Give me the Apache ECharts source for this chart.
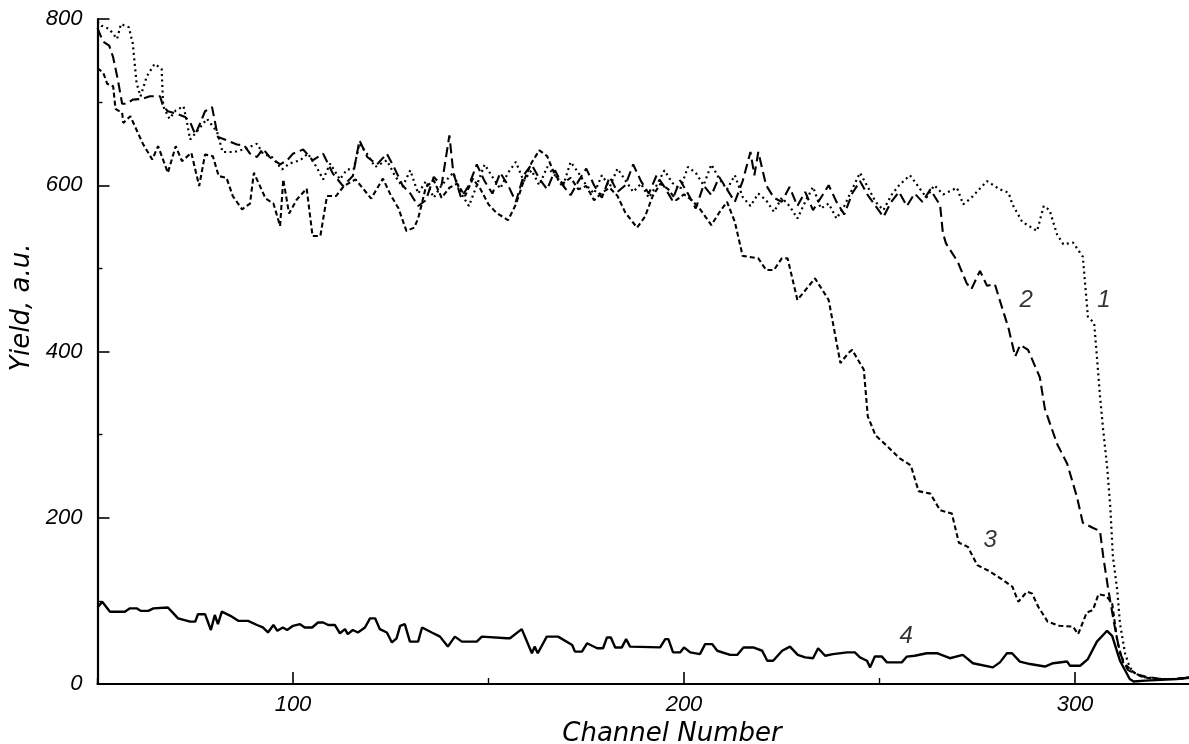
<!DOCTYPE html>
<html>
<head>
<meta charset="utf-8">
<script src="https://cdn.jsdelivr.net/npm/echarts@6/dist/echarts.min.js"></script>
<style>html,body{margin:0;padding:0;background:#fff;}#c{width:1189px;height:744px;}</style>
</head>
<body>
<div id="c"></div>
<script>
// ---- data ----
const s1Ch = [50,51,53,55,56,58,59,60,61,62.6,64.6,66.4,66.8,68.4,70,72,72.7,73.7,76,78,80.6,82,85,88,90.8,92.3,94.6,97.2,99,101.8,103.8,106,107.7,109.5,112,113.8,115.5,117,118.9,121,124,126,128,130,132,134,136,138,141,143,145,147,149,151,153,155,157,159,161,163,165,167,169,171,173,175,177,179,181,183,185,187,189,191,193,195,197,199,201,203,205,207,209,211,213,215,217,219,221,223,225,227,229,231,233,235,237,239,241,243,245,247,249,251,253,255,257.8,260,262,264,266.3,269.8,271.4,273.5,277.5,280.8,283,284,286.5,290.3,292,293.5,295.4,297,299.5,302,303.3,304.9,305.6,306.4,307.2,308.2,309,309.7,310.8,311.5,312.8,314,315.5,318,322,326,330];
const s1Val = [797,792,788,776,794,790,771,723,707,731,746,740,695,680,690,695,680,655,668,680,664,640,640,644,650,638,634,619,626,630,638,622,607,626,607,619,619,650,638,622,630,612,598,618,590,605,585,600,615,590,575,600,625,610,596,615,628,605,618,600,622,612,598,628,615,600,590,612,598,620,606,592,602,585,600,618,603,595,622,615,600,625,608,595,612,586,575,590,582,568,585,575,560,580,598,572,578,560,575,595,615,598,580,570,588,600,612,598,585,600,589,597,577,585,605,595,591,577,556,545,575,570,541,529,531,514,442,434,394,346,306,262,215,153,113,73,37,20,12,8,6,6,8];

const s2Ch = [50,51.4,53,54,55.2,56.3,57.5,59,61.6,63.4,66,66.8,68,70.3,72.4,73.7,75,76.2,77.5,79.3,80.8,83.1,85.7,87.5,89,90.8,92.3,94,96.7,98.5,100,102.6,105,107.7,110.2,112.8,115.3,117,119,121.5,124,126,128,130,132,134,136,138,140,141,143,145,147,149,151,153,155,157,159,161,163,165,167,169,171,173,175,177,179,181,183,185,187,189,191,193,195,197,199,201,203,205,207,209,211,213,215,217,218,219,221,223,225,227,229,231,233,235,237,239,241,243,245,247,249,251,253,255,257,259,261,263,265.5,266.2,267,270,272.3,273.5,275.7,277.5,279.5,281,283,284.7,286,288,291,292.3,295.4,298,300.5,302,304.5,306.4,307.2,308.5,310,311.5,313.5,315.5,318,322,326,330];
const s2Val = [789,773,768,754,727,698,698,703,704,707,707,695,689,686,682,676,661,674,689,694,658,654,649,648,638,634,644,634,625,630,638,643,630,638,614,599,611,654,634,625,638,620,600,590,575,582,610,600,660,615,585,600,625,605,590,615,600,580,612,625,608,595,618,600,588,605,620,600,585,610,592,600,625,605,590,612,598,582,606,590,572,600,588,610,595,580,605,640,612,640,600,585,580,598,575,592,570,585,600,580,565,590,605,588,575,562,580,592,575,590,580,595,576,543,530,508,482,475,497,479,481,458,428,394,408,402,369,331,289,265,225,194,188,184,154,114,73,37,17,12,9,6,6,8];

const s3Ch = [50,51.5,52.5,54,54.6,56.3,56.6,58.4,61.6,64,65.5,68,70,71.6,74,76,77.5,79.5,81,83,84.6,87,89,90,93,95,96.7,97.5,99,101,103.5,105,107,108.7,111,113,116,120,123,125,127,129,131,132,134,136,138,140,142,144,146,148,150,152,155,157,159,161,163,165,167,169,171,173,175,177,179,181,183,185,188,190,192,194,196,198,200,202,204,207,209,211,213,215,219,221,223,225,226.5,229,233.5,237,240,242,243,246,247,249,252,255,258,260,263,265.5,268.5,270.3,272.6,275,278,281.6,284,285.5,287.7,289,290.6,293,296,299.5,300.8,303,304.6,306,308,309.5,310.8,312.3,315,317,320,325,330];
const s3Val = [741,735,722,719,692,687,675,683,650,631,647,615,647,629,639,599,637,635,611,609,587,571,578,615,584,578,551,607,566,583,596,539,539,587,587,599,607,584,608,588,572,545,549,560,598,606,585,597,602,587,608,595,577,567,558,577,605,627,642,635,612,602,609,595,599,582,591,597,587,567,549,562,587,602,595,582,589,582,572,552,567,580,556,515,512,498,498,512,512,462,488,462,386,398,402,378,322,299,286,272,263,232,229,209,205,170,165,143,136,125,117,99,111,109,93,75,70,69,60,86,89,108,106,97,52,26,14,9,6,6,8];

const s4Ch = [50,51.2,53.2,57,58.3,60,61,63,64.3,68,69,70.6,73.7,75,75.7,77.5,79,80,80.8,81.8,84,86,88.5,90.8,92.3,93.6,95,96,97.4,98.5,100,101.8,103,104.9,106.4,107.7,109,110.7,112,113.3,114,115.3,116.6,118.4,119.7,121,122.2,124,125.3,126.5,127.4,128.6,129.9,132,133,135.5,137.6,139.6,141.4,143.2,147,148.3,154.7,155.5,158.5,161.1,161.8,162.6,164.9,167.8,171.4,172.1,173.9,175.2,177.8,179.3,180.3,181.3,182.4,184.1,185.2,186.2,193.9,195.2,196,197.2,199,200,201.6,204.1,205.4,207.2,208.5,211.8,213.6,215.2,217.7,220,221.3,222.8,225.1,227.1,229.1,231,233,234.3,236.1,238.1,241.7,243.7,245,246.8,247.6,248.8,250.6,251.9,255.7,257,259,262.1,264.7,268,271.3,273.9,279,280.8,282.6,283.9,285.9,288.5,292.3,294.4,298,298.7,301.3,303.3,305.6,308.2,309.5,311.5,314,315,318,322,326,330];
const s4Val = [92,99,87,87,91,91,88,88,91,92,87,79,75,75,84,84,65,83,72,87,82,76,76,71,68,62,71,64,68,65,70,72,68,68,74,74,71,71,61,66,60,65,62,68,79,79,66,62,50,55,70,72,51,51,68,62,57,45,57,51,51,57,55,55,66,37,45,37,57,57,47,39,39,49,43,43,56,56,44,44,54,45,44,54,54,38,38,44,38,36,48,48,40,35,35,44,44,40,28,28,40,45,35,32,31,43,34,36,38,38,32,28,20,33,33,26,26,33,34,37,37,31,35,25,20,26,37,37,27,24,21,25,27,22,22,30,51,64,58,28,6,3,4,5,6,8];

const curveLabels = ['1','2','3','4'];
const curveLabelCh = [307.4, 287.5, 278.3, 256.8];
const curveLabelVal = [461, 461, 173, 57];

const yTicks = [0,200,400,600,800];
const xTickLabels = [100,200,300];

// ---- chart ----
const pairs = (xs, ys) => xs.map((x, i) => [x, ys[i]]);
const FONT = 'Liberation Sans';
const PX_PER_CH = 1094.8 / 280;           // plot scale: channels 50..330 over the plot width
const chart = echarts.init(document.getElementById('c'), null, {renderer: 'canvas'});
const lineBase = {type: 'line', showSymbol: false, symbol: 'none', smooth: false, silent: true, animation: false, z: 3,
  xAxisIndex: 0, yAxisIndex: 0};

chart.setOption({
  backgroundColor: '#ffffff',
  animation: false,
  grid: [
    {left: 97.5, top: 19, width: 1094.8, bottom: 60, containLabel: false, outerBoundsMode: 'none'},
    // same scale, extended to channel 0..400 so ticks fall on round channels
    {left: 97.5 - 50 * PX_PER_CH, top: 19, width: 400 * PX_PER_CH, bottom: 60, containLabel: false, outerBoundsMode: 'none'}
  ],
  xAxis: [{
    gridIndex: 0, type: 'value', min: 50, max: 330,
    axisLine: {show: true, onZero: false, lineStyle: {color: '#000', width: 2.2}},
    axisTick: {show: false}, axisLabel: {show: false}, splitLine: {show: false}
  }, {
    gridIndex: 1, type: 'value', min: 0, max: 400, interval: 100,
    name: 'Channel Number', nameLocation: 'middle', nameGap: 30,
    nameTextStyle: {fontFamily: 'DejaVu Sans', fontStyle: 'italic', fontSize: 26, color: '#000',
      padding: [0, 0, 0, 2 * (672 - (97.5 + 150 * PX_PER_CH))]},
    axisLine: {show: false, onZero: false},
    axisTick: {show: true, inside: true, length: 12, lineStyle: {color: '#000', width: 1.6}},
    minorTick: {show: true, splitNumber: 2, length: 6, lineStyle: {color: '#000', width: 1.4}},
    axisLabel: {show: true, margin: 10, color: '#000', fontFamily: FONT, fontStyle: 'italic', fontSize: 22,
      formatter: v => (xTickLabels.indexOf(v) >= 0 ? String(v) : '')},
    splitLine: {show: false}, minorSplitLine: {show: false}
  }],
  yAxis: [{
    gridIndex: 0, type: 'value', min: 0, max: 800, interval: 200,
    name: 'Yield, a.u.', nameLocation: 'middle', nameGap: 60, nameRotate: 90,
    nameTextStyle: {fontFamily: 'DejaVu Sans', fontStyle: 'italic', fontSize: 26, color: '#000', padding: [0, 0, 0, 88]},
    axisLine: {show: true, onZero: false, lineStyle: {color: '#000', width: 2.2}},
    axisTick: {show: true, inside: true, length: 12, lineStyle: {color: '#000', width: 1.6}},
    minorTick: {show: true, splitNumber: 2, length: 5, lineStyle: {color: '#000', width: 1.4}},
    axisLabel: {show: true, margin: 15, color: '#000', fontFamily: FONT, fontStyle: 'italic', fontSize: 22,
      formatter: v => (yTicks.indexOf(v) >= 0 ? String(v) : '')},
    splitLine: {show: false}, minorSplitLine: {show: false}
  }, {
    gridIndex: 1, type: 'value', min: 0, max: 800, show: false
  }],
  series: [
    Object.assign({}, lineBase, {name: '1', data: pairs(s1Ch, s1Val),
      lineStyle: {color: '#000', width: 2.2, type: [2, 3.5], cap: 'butt'}}),
    Object.assign({}, lineBase, {name: '2', data: pairs(s2Ch, s2Val),
      lineStyle: {color: '#000', width: 2.1, type: [10, 5], cap: 'butt'}}),
    Object.assign({}, lineBase, {name: '3', data: pairs(s3Ch, s3Val),
      lineStyle: {color: '#000', width: 2.1, type: [5, 3], cap: 'butt'}}),
    Object.assign({}, lineBase, {name: '4', data: pairs(s4Ch, s4Val),
      lineStyle: {color: '#000', width: 2.4, type: 'solid'}}),
    {
      type: 'scatter', name: 'labels', silent: true, animation: false, symbolSize: 0, z: 5,
      xAxisIndex: 0, yAxisIndex: 0,
      data: curveLabels.map((t, i) => [curveLabelCh[i], curveLabelVal[i], t]),
      label: {show: true, position: 'inside', formatter: p => p.data[2], color: '#000',
        fontFamily: FONT, fontStyle: 'italic', fontSize: 24, textBorderWidth: 0}
    }
  ]
});
</script>
</body>
</html>
